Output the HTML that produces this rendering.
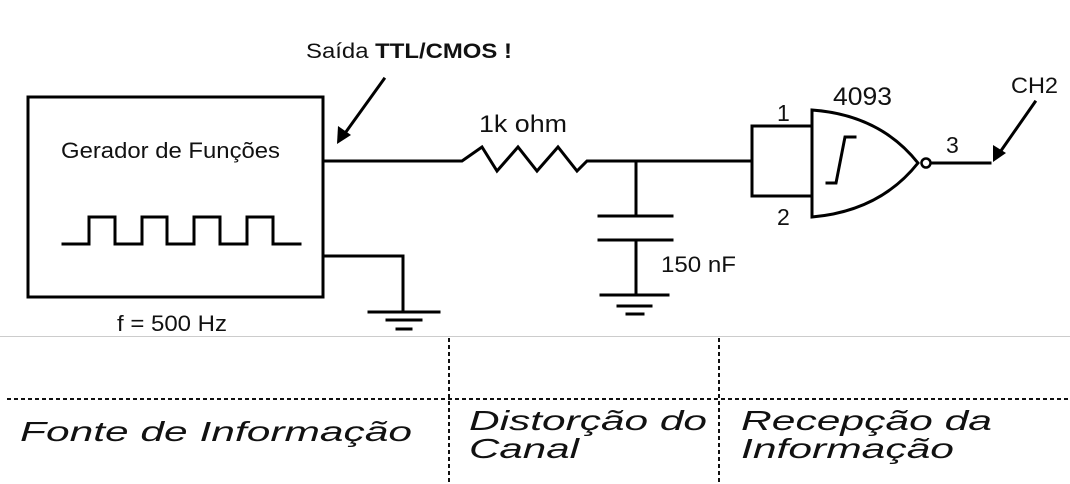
<!DOCTYPE html>
<html><head><meta charset="utf-8"><style>
html,body{margin:0;padding:0;background:#fff;}
svg{display:block;}
text{font-family:"Liberation Sans",sans-serif;fill:#111;}
</style></head><body>
<svg width="1070" height="484" viewBox="0 0 1070 484" xmlns="http://www.w3.org/2000/svg">
<g stroke="#000" stroke-width="3" fill="none" stroke-linecap="square">
<rect x="28" y="97" width="295" height="200"/>
<polyline points="63,244 89,244 89,217 115,217 115,244 142,244 142,217 167,217 167,244 194,244 194,217 220,217 220,244 247,244 247,217 273,217 273,244 300,244"/>
<polyline points="323,161 462,161 482,147 497,171 518,147 537,171 558,147 577,171 587,161 752,161"/>
<polyline points="323,256 403,256 403,312"/>
<line x1="369" y1="312" x2="439" y2="312"/>
<line x1="387" y1="320" x2="421" y2="320"/>
<line x1="397" y1="329" x2="411" y2="329"/>
<line x1="636" y1="161" x2="636" y2="216"/>
<line x1="599" y1="216" x2="672" y2="216"/>
<line x1="599" y1="240" x2="672" y2="240"/>
<line x1="636" y1="240" x2="636" y2="295"/>
<line x1="601" y1="295" x2="668" y2="295"/>
<line x1="618" y1="306" x2="651" y2="306"/>
<line x1="627" y1="314" x2="643" y2="314"/>
<polyline points="812,126 752,126 752,196 812,196"/>
<path d="M812,110 Q880,115 918,163 Q880,211 812,217 Z"/>
<polyline points="827,183 836,183 845,137 855,137"/>
<line x1="931" y1="163" x2="990" y2="163"/>
<line x1="384" y1="79" x2="343" y2="136"/>
<line x1="1035" y1="102" x2="998" y2="155"/>
</g>
<circle cx="926" cy="163" r="4.5" fill="#fff" stroke="#000" stroke-width="2.5"/>
<polygon points="337,144 338,126 351,135" fill="#000"/>
<polygon points="993,162 993,145 1006,153" fill="#000"/>
<text x="306" y="58" font-size="21" textLength="206" lengthAdjust="spacingAndGlyphs">Saída <tspan font-weight="bold">TTL/CMOS !</tspan></text>
<text x="61" y="158" font-size="22" textLength="219" lengthAdjust="spacingAndGlyphs">Gerador de Funções</text>
<text x="117" y="331" font-size="22" textLength="110" lengthAdjust="spacingAndGlyphs">f = 500 Hz</text>
<text x="479" y="132" font-size="24" textLength="88" lengthAdjust="spacingAndGlyphs">1k ohm</text>
<text x="661" y="272" font-size="22" textLength="75" lengthAdjust="spacingAndGlyphs">150 nF</text>
<text x="833" y="105" font-size="25" textLength="59" lengthAdjust="spacingAndGlyphs">4093</text>
<text x="777" y="121" font-size="23">1</text>
<text x="777" y="225" font-size="23">2</text>
<text x="946" y="153" font-size="23">3</text>
<text x="1011" y="93" font-size="22" textLength="47" lengthAdjust="spacingAndGlyphs">CH2</text>
<line x1="0" y1="336.5" x2="1070" y2="336.5" stroke="#ccc" stroke-width="1"/>
<g stroke="#111" stroke-width="2" stroke-dasharray="4,3">
<line x1="7" y1="399" x2="1070" y2="399"/>
<line x1="449" y1="338" x2="449" y2="484"/>
<line x1="719" y1="338" x2="719" y2="484"/>
</g>
<g font-size="28" font-style="italic">
<text x="20" y="441" textLength="392" lengthAdjust="spacingAndGlyphs">Fonte de Informação</text>
<text x="469" y="430" textLength="238" lengthAdjust="spacingAndGlyphs">Distorção do</text>
<text x="469" y="458" textLength="110" lengthAdjust="spacingAndGlyphs">Canal</text>
<text x="741" y="430" textLength="251" lengthAdjust="spacingAndGlyphs">Recepção da</text>
<text x="741" y="458" textLength="213" lengthAdjust="spacingAndGlyphs">Informação</text>
</g>
</svg>
</body></html>
